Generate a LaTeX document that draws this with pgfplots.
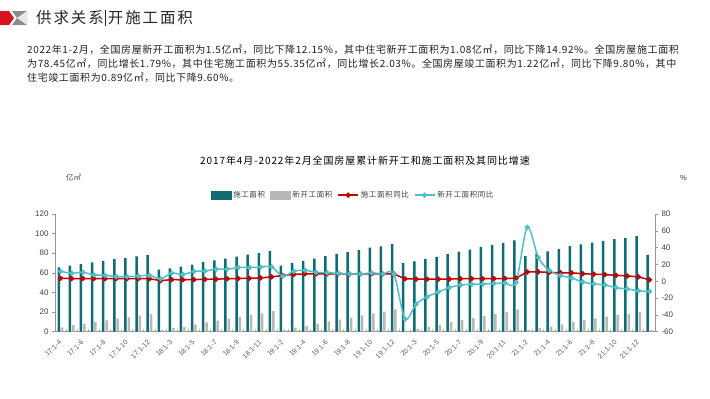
\documentclass[border=0pt]{standalone}
\usepackage{fontspec}
\setmainfont{Liberation Sans}
\newfontfamily\cjk{Noto Sans CJK SC}
\newfontfamily\cjkh{Noto Sans CJK SC}[LetterSpace=12]
\newfontfamily\cjkp{Noto Sans CJK SC}[LetterSpace=6]
\newfontfamily\cjkt{Noto Sans CJK SC}[LetterSpace=9]
\newfontfamily\cjkl{Noto Sans CJK SC}[LetterSpace=8]
\usepackage{pgfplots}
\usepackage{pgfplotstable}
\pgfplotsset{compat=1.18}
\definecolor{tealc}{RGB}{14,108,114}
\definecolor{grayc}{RGB}{184,184,184}
\definecolor{redc}{RGB}{192,0,0}
\definecolor{cyanc}{RGB}{80,192,200}
\definecolor{axisc}{RGB}{150,150,150}
\definecolor{txtc}{RGB}{64,64,64}
\definecolor{hdrred}{RGB}{214,20,30}
\definecolor{hdrgray}{RGB}{140,140,140}

\pgfplotstableread{
i shi xin syoy xyoy
0 65.6 4.5 3.5 11.9
1 67.3 6.6 3.2 9.5
2 69.0 8.2 3.3 10.6
3 70.7 9.8 3.2 7.7
4 72.2 11.5 3.1 7.0
5 73.9 13.3 3.0 5.6
6 75.4 14.7 3.1 5.5
7 76.9 16.3 3.1 6.1
8 78.2 17.9 3.0 7.0
9 63.2 1.9 0.8 2.9
10 64.6 3.6 1.9 9.7
11 66.4 5.0 1.7 8.1
12 68.5 7.4 2.0 11.8
13 71.1 9.6 2.3 12.2
14 72.7 11.3 2.5 14.4
15 74.6 13.3 3.0 14.4
16 76.6 15.3 3.3 16.4
17 78.5 17.1 3.5 16.3
18 80.2 18.8 4.0 16.8
19 82.2 20.9 5.2 17.2
20 67.4 2.0 6.8 6.0
21 69.9 4.1 8.2 11.9
22 72.3 5.7 8.8 13.1
23 74.5 8.2 8.8 10.5
24 77.1 10.5 8.8 10.1
25 79.3 12.3 9.0 9.5
26 81.2 14.4 8.8 8.9
27 83.2 16.6 8.7 8.6
28 85.6 18.8 9.0 10.0
29 87.1 20.4 8.7 8.6
30 89.4 22.7 8.7 8.5
31 69.8 1.1 2.9 -44.9
32 71.8 2.8 2.6 -27.2
33 74.2 4.7 2.5 -18.4
34 76.4 7.2 2.6 -12.8
35 79.2 9.7 2.6 -7.6
36 81.6 11.8 3.0 -4.5
37 83.7 13.9 3.1 -3.6
38 86.2 16.0 3.1 -3.4
39 88.4 18.3 3.1 -2.6
40 90.6 20.0 3.2 -2.0
41 93.0 22.4 3.7 -1.2
42 77.1 1.7 11.0 64.3
43 79.8 3.6 11.2 28.2
44 81.9 5.3 10.5 12.8
45 84.1 7.6 10.1 6.9
46 87.3 10.1 10.0 3.8
47 89.1 11.7 9.0 -0.9
48 90.9 13.5 8.4 -3.2
49 92.6 15.3 7.9 -4.5
50 94.5 16.9 7.1 -7.7
51 95.6 18.2 6.3 -9.1
52 97.5 19.9 5.2 -11.4
53 78.45 1.5 1.79 -12.2
}\data

\pgfplotsset{base/.style={
  scale only axis, width=600pt, height=117.7pt,
  at={(55pt,-331.7pt)}, anchor=south west,
  xmin=-0.5, xmax=53.5,
  axis line style={axisc, line width=0.6pt},
  tick style={axisc, line width=0.6pt},
  ticklabel style={font=\fontsize{8}{9}\selectfont, text=txtc},
  /pgf/number format/assume math mode=true,
}}

\begin{document}
\begin{tikzpicture}
\path[use as bounding box] (0pt,0pt) rectangle (710pt,-399pt);
% header
\fill[hdrred] (0pt,-11pt) -- (9pt,-11pt) -- (14pt,-18pt) -- (9pt,-25pt) -- (0pt,-25pt) -- cycle;
\fill[hdrgray] (12pt,-11pt) -- (27pt,-11pt) -- (27pt,-25pt) -- (12pt,-25pt) -- (17pt,-18pt) -- cycle;
\fill[white!80!hdrgray] (17pt,-18pt) -- (27pt,-11pt) -- (27pt,-25pt) -- cycle;
\node[anchor=west, inner sep=0pt, text=black!85] at (36pt,-18pt)
  {\cjkh\fontsize{15.5}{16}\selectfont 供求关系\hspace{1pt}\rule[-3pt]{1.2pt}{16pt}\hspace{2pt}开施工面积};
% paragraph
\begin{scope}[every node/.style={anchor=west, inner sep=0pt, text=black!88, font=\cjkp\fontsize{10}{12}\selectfont}]
\node at (27pt,-49.3pt) {2022年1-2月，全国房屋新开工面积为1.5亿㎡，同比下降12.15\%，其中住宅新开工面积为1.08亿㎡，同比下降14.92\%。全国房屋施工面积};
\node at (27pt,-63.3pt) {为78.45亿㎡，同比增长1.79\%，其中住宅施工面积为55.35亿㎡，同比增长2.03\%。全国房屋竣工面积为1.22亿㎡，同比下降9.80\%，其中};
\node at (27pt,-77.3pt) {住宅竣工面积为0.89亿㎡，同比下降9.60\%。};
\end{scope}
% chart title and units
\node[inner sep=0pt] at (365pt,-161pt) {\cjkt\fontsize{10}{12}\selectfont 2017年4月-2022年2月全国房屋累计新开工和施工面积及其同比增速};
\node[anchor=west, inner sep=0pt, text=txtc] at (66pt,-178pt) {\cjk\fontsize{7.5}{9}\selectfont 亿㎡};
\node[anchor=west, inner sep=0pt, text=txtc] at (680pt,-178pt) {\fontsize{7.5}{9}\selectfont \%};

% bars, left axis
\begin{axis}[base,
  axis y line*=left, axis x line*=bottom,
  ymin=0, ymax=120, ytick={0,20,...,120},
  tick align=outside, major tick length=3pt, minor tick length=3pt,
  xtick={0,2,...,52},
  minor xtick={-0.5,0.5,...,53.5},
  xticklabels={17:1-4,17:1-6,17:1-8,17:1-10,17:1-12,18:1-3,18:1-5,18:1-7,18:1-9,18:1-11,19:1-2,19:1-4,19:1-6,19:1-8,19:1-10,19:1-12,20:1-3,20:1-5,20:1-7,20:1-9,20:1-11,21:1-2,21:1-4,21:1-6,21:1-8,21:1-10,21:1-12},
  xtick style={draw=none},
  minor x tick style={draw=grayc, line width=0.8pt, yshift=3pt},
  x tick label style={rotate=45, anchor=east, font=\fontsize{7}{8}\selectfont, inner sep=0.5pt, text=txtc!85},
  xticklabel shift=6pt,
  ybar, bar width=2.5pt,
]
\addplot[fill=tealc, draw=none, bar shift=-1.8pt] table[x=i, y=shi]{\data};
\addplot[fill=grayc, draw=none, bar shift=1.6pt] table[x=i, y=xin]{\data};
\end{axis}

% lines, right axis
\begin{axis}[base,
  axis y line*=right, axis x line=none,
  ymin=-60, ymax=80, ytick={-60,-40,...,80},
  tick align=outside, major tick length=3pt,
  xtick=\empty,
  legend style={at={(0.497,1.161)}, anchor=center, draw=none, fill=none,
    font=\cjkl\fontsize{7.5}{9}\selectfont, text=txtc,
    legend columns=4, /tikz/every even column/.append style={column sep=3pt},
    inner sep=0pt},
  legend image code/.code={
    \draw[mark repeat=2, mark phase=2, #1] plot coordinates {(0pt,0pt) (10pt,0pt) (20pt,0pt)};},
]
\addlegendimage{legend image code/.code={\fill[tealc] (0pt,-4pt) rectangle (20pt,4pt);}}
\addlegendimage{legend image code/.code={\fill[grayc] (0pt,-4pt) rectangle (20pt,4pt);}}
\addplot[redc, line width=1.5pt, mark=*, mark size=1.8pt] table[x=i, y=syoy]{\data};
\addplot[cyanc, line width=1.5pt, smooth, mark=*, mark size=1.8pt] table[x=i, y=xyoy]{\data};
\legend{施工面积,新开工面积,施工面积同比,新开工面积同比}
\end{axis}
\end{tikzpicture}
\end{document}
